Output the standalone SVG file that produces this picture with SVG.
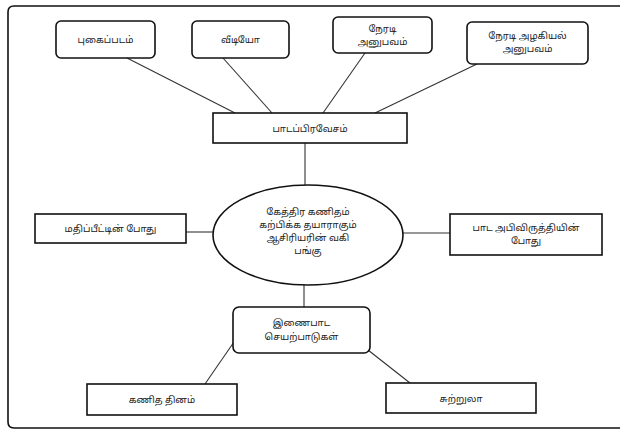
<svg xmlns="http://www.w3.org/2000/svg" width="629" height="430" viewBox="0 0 629 430">
<style>
.box{fill:#fff;stroke:#111;stroke-width:1.6}
.conn line{stroke:#333;stroke-width:1.1}
text{font-family:"Noto Sans Tamil","Noto Sans","DejaVu Sans",sans-serif;font-size:9.5px;fill:#222;text-anchor:middle}
</style>
<rect width="629" height="430" fill="#fff"/>
<path d="M620,6 H14 Q8,6 8,12 V422 Q8,428 14,428 H620" fill="none" stroke="#111" stroke-width="1.6"/>
<g class="conn">
<line x1="127" y1="58" x2="235" y2="113"/>
<line x1="223" y1="58" x2="272" y2="113"/>
<line x1="365" y1="53" x2="323" y2="113"/>
<line x1="477" y1="64" x2="375" y2="113"/>
<line x1="305" y1="143" x2="305" y2="185"/>
<line x1="186" y1="232" x2="213" y2="232"/>
<line x1="403" y1="233" x2="450" y2="233"/>
<line x1="304" y1="285" x2="304" y2="307"/>
<line x1="205" y1="384" x2="236" y2="339"/>
<line x1="410" y1="383" x2="368" y2="350"/>
</g>
<g id="n1"><rect class="box" x="56" y="21" width="99" height="37" rx="5"/><text x="105.5" y="43">புகைப்படம்</text></g>
<g id="n2"><rect class="box" x="192" y="21" width="97" height="37" rx="5"/><text x="240.5" y="43">வீடியோ</text></g>
<g id="n3"><rect class="box" x="333" y="17" width="99" height="36" rx="5"/><text x="382.5" y="32">நேரடி</text><text x="382.5" y="45">அனுபவம்</text></g>
<g id="n4"><rect class="box" x="467" y="22" width="121" height="42" rx="5"/><text x="527.5" y="39">நேரடி அழகியல்</text><text x="527.5" y="52">அனுபவம்</text></g>
<g id="n5"><rect class="box" x="213" y="113" width="194" height="30"/><text x="310" y="132">பாடப்பிரவேசம்</text></g>
<g id="n6"><ellipse class="box" cx="308" cy="235" rx="95" ry="50"/><text x="308" y="215">கேத்திர கணிதம்</text><text x="308" y="228">கற்பிக்க தயாராகும்</text><text x="308" y="241">ஆசிரியரின் வகி</text><text x="308" y="254">பங்கு</text></g>
<g id="n7"><rect class="box" x="35" y="214" width="151" height="29"/><text x="110.5" y="232">மதிப்பீட்டின் போது</text></g>
<g id="n8"><rect class="box" x="450" y="214" width="152" height="41"/><text x="526" y="231">பாட அபிவிருத்தியின்</text><text x="526" y="244">போது</text></g>
<g id="n9"><rect class="box" x="233" y="307" width="137" height="46" rx="6"/><text x="301.5" y="326">இணைபாட</text><text x="301.5" y="340">செயற்பாடுகள்</text></g>
<g id="n10"><rect class="box" x="87" y="384" width="150" height="31"/><text x="162" y="403">கணித தினம்</text></g>
<g id="n11"><rect class="box" x="386" y="383" width="150" height="30"/><text x="461" y="402">சுற்றுலா</text></g>
</svg>
